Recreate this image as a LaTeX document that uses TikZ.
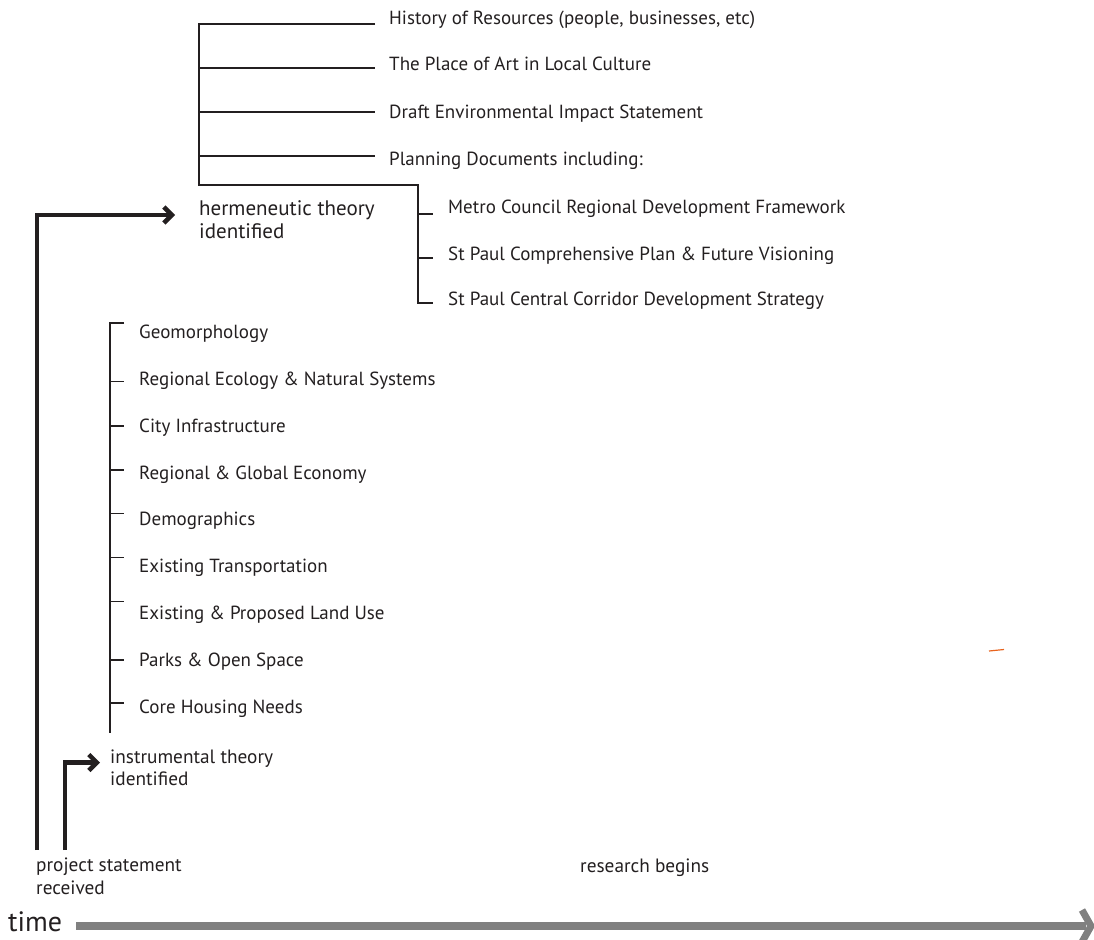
\documentclass[tikz,border=0pt]{standalone}
\usepackage{fontspec}
\setmainfont{PT Sans}
\usetikzlibrary{arrows.meta}
\definecolor{ink}{HTML}{231F20}
\definecolor{timegray}{HTML}{808080}
\definecolor{stray}{HTML}{E8641E}
\begin{document}
\begin{tikzpicture}[x=1pt,y=-1pt,
  item/.style={anchor=base west, inner sep=0pt, font=\fontsize{19}{22}\selectfont, text=ink},
  milestone/.style={anchor=base west, inner sep=0pt, align=left, font=\fontsize{19.3}{22.6}\selectfont, text=ink},
  bracket/.style={draw=ink, line width=1.2pt, line join=miter},
  flow/.style={draw=ink, line width=4.5pt, line join=miter, -{Straight Barb[length=8pt,width=16pt]}},
  timebar/.style={draw=timegray, line width=8pt},
]
\useasboundingbox (0,0) rectangle (1094,939);

% ---- context branch: hermeneutic sources
\coordinate (hb-top) at (199,24);
\coordinate (hb-bot) at (199,185);
\coordinate (sb-top) at (418,185);
\coordinate (sb-bot) at (418,303);
\draw[bracket] (375,24) -- (hb-top) -- (hb-bot) -- (sb-top) -- (sb-bot) -- (433,303);
\foreach \y in {68,112,156} \draw[bracket] (199,\y) -- (375,\y);
\foreach \y in {214,258} \draw[bracket] (418,\y) -- (433,\y);

\node[item] (hist)  at (389,24.3) {History of Resources (people, businesses, etc)};
\node[item] (art)   at (389,71)   {The Place of Art in Local Culture};
\node[item] (deis)  at (389,118.3){Draft Environmental Impact Statement};
\node[item] (plan)  at (389,165)  {Planning Documents including:};
\node[item] (metro) at (448,213)  {Metro Council Regional Development Framework};
\node[item] (comp)  at (448,260)  {St Paul Comprehensive Plan \& Future Visioning};
\node[item] (corr)  at (448,305)  {St Paul Central Corridor Development Strategy};

% ---- analytic branch: instrumental sources
\draw[bracket] (124,323) -- (110,323) -- (110,733);
\foreach \y in {381.7,426,470,513.7,557.7,601.7,660,703} \draw[bracket] (110,\y) -- (124,\y);

\node[item] (geo)   at (139,338.3) {Geomorphology};
\node[item] (eco)   at (139,385.2) {Regional Ecology \& Natural Systems};
\node[item] (infra) at (139,432.1) {City Infrastructure};
\node[item] (econ)  at (139,479.0) {Regional \& Global Economy};
\node[item] (demo)  at (139,525.9) {Demographics};
\node[item] (trans) at (139,572.8) {Existing Transportation};
\node[item] (land)  at (139,619.7) {Existing \& Proposed Land Use};
\node[item] (parks) at (139,666.6) {Parks \& Open Space};
\node[item] (house) at (139,713.5) {Core Housing Needs};

% ---- milestones (base anchor sits on the last line)
\node[milestone, font=\fontsize{21}{23}\selectfont] (herm) at (199,238) {hermeneutic theory\\identified};
\node[milestone] (instr) at (110,785.7) {instrumental theory\\identified};
\node[milestone] (proj)  at (36,894.3) {project statement\\received};
\node[milestone] (res)   at (580,872) {research begins};

\coordinate (pA) at (37,850);
\coordinate (hTip) at (175,215);
\coordinate (pB) at (65,850);
\coordinate (iTip) at (100,762.5);
\draw[flow] (pA) |- (hTip);
\draw[flow] (pB) |- (iTip);

% ---- time axis
\node[anchor=base west, inner sep=0pt, font=\fontsize{28}{30}\selectfont, text=ink] (time) at (8,931.7) {time};
\coordinate (tStart) at (76,926);
\coordinate (tEnd) at (1086,926);
\draw[timebar] (tStart) -- (tEnd);
\draw[draw=timegray, line width=7pt, line join=miter] (1082,910) -- (1091,926) -- (1082,942);

\draw[stray, line width=1.2pt] (989,651) -- (1004,649.5);
\end{tikzpicture}
\end{document}
